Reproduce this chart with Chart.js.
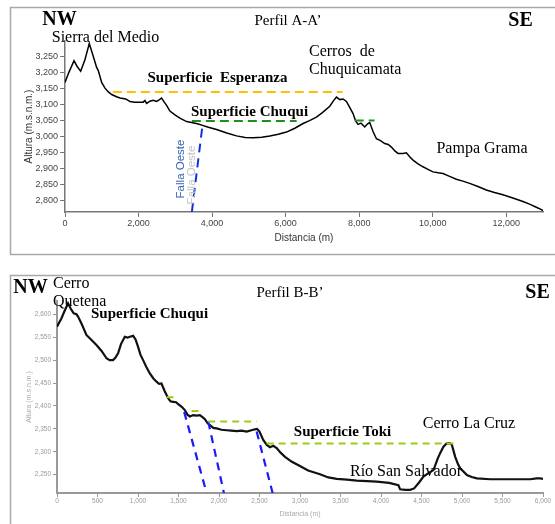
<!DOCTYPE html>
<html><head><meta charset="utf-8">
<script src="https://cdn.jsdelivr.net/npm/chart.js@4.4.1/dist/chart.umd.min.js"></script>
<style>
html,body{margin:0;padding:0;background:#fff;width:555px;height:524px;overflow:hidden}
.wrap{position:absolute;left:0;width:555px}
</style></head><body>
<div class="wrap" style="top:0;height:265px"><canvas id="cA" width="555" height="265"></canvas></div>
<div class="wrap" style="top:265px;height:259px"><canvas id="cB" width="555" height="259"></canvas></div>
<script>
// ---------- Perfil A-A' ----------
const distA = [0,100,245,330,426,540,660,760,860,905,997,1087,1180,1270,1400,1500,1650,1766,1900,2040,2128,2174,2220,2310,2400,2490,2560,2627,2700,2763,2853,3000,3125,3307,3443,3600,3741,3900,4122,4400,4666,4900,5118,5350,5571,5800,6024,6250,6476,6650,6838,7000,7201,7300,7383,7473,7560,7654,7750,7834,7900,7970,8050,8152,8230,8288,8380,8470,8580,8696,8790,8877,8970,9057,9193,9284,9380,9465,9600,9737,9870,10008,10150,10280,10460,10643,10820,11005,11230,11458,11680,11911,12200,12454,12650,12817,12930,13000];
const altA  = [3170,3200,3238,3220,3205,3240,3292,3255,3217,3207,3170,3152,3140,3132,3125,3121,3118,3110,3108,3108,3108,3113,3104,3111,3114,3110,3115,3121,3108,3098,3080,3067,3058,3047,3044,3040,3035,3029,3022,3011,3002,2997,2996,2998,3002,3007,3014,3026,3041,3050,3061,3075,3095,3112,3124,3116,3118,3110,3090,3072,3050,3038,3042,3030,3040,3044,3015,2993,2987,2978,2975,2967,2955,2947,2947,2949,2936,2926,2914,2905,2897,2889,2886,2884,2875,2866,2860,2853,2843,2832,2824,2817,2806,2796,2787,2778,2772,2767];
const xTicksA = [0,2000,4000,6000,8000,10000,12000];
const yTicksA = [2800,2850,2900,2950,3000,3050,3100,3150,3200,3250];
const esperanzaX = [1300,7550],  esperanzaY = [3140,3140];
const chuquiAX   = [3450,6300],  chuquiAY   = [3049,3049];
const chuquiA2X  = [7880,8420],  chuquiA2Y  = [3050,3050];
const fallaOesteX = [3450,3740], fallaOesteY = [2763,3036];

// ---------- Perfil B-B' ----------
const distB = [0,54,100,136,170,206,240,260,302,363,420,487,550,611,650,692,720,754,790,837,870,899,940,970,1001,1030,1063,1100,1146,1190,1229,1260,1290,1330,1372,1400,1434,1470,1496,1540,1578,1610,1640,1681,1723,1764,1800,1826,1860,1888,1930,1970,2030,2094,2150,2218,2280,2341,2400,2444,2470,2500,2546,2590,2629,2670,2712,2760,2815,2900,2999,3100,3247,3350,3454,3580,3701,3830,3948,4100,4215,4236,4300,4360,4409,4470,4524,4590,4648,4700,4730,4771,4810,4850,4875,4916,4950,4978,5061,5120,5184,5349,5596,5843,5920,5967,6000];
const altB  = [2573,2591,2610,2624,2612,2602,2600,2595,2580,2555,2545,2533,2520,2504,2500,2500,2505,2515,2535,2551,2549,2551,2553,2545,2529,2512,2500,2486,2471,2460,2453,2448,2449,2432,2417,2410,2409,2408,2404,2398,2391,2381,2377,2380,2379,2380,2375,2371,2362,2358,2352,2351,2348,2347,2346,2345,2346,2344,2347,2349,2350,2344,2326,2315,2310,2313,2308,2298,2289,2278,2269,2259,2251,2244,2241,2239,2237,2236,2235,2232,2227,2218,2217,2217,2220,2233,2246,2254,2260,2285,2297,2311,2318,2319,2315,2289,2273,2264,2249,2245,2242,2240,2240,2240,2242,2242,2241];
const xTicksB = [0,500,1000,1500,2000,2500,3000,3500,4000,4500,5000,5500,6000];
const yTicksB = [2250,2300,2350,2400,2450,2500,2550,2600];
const surf1X = [1352,1455], surf1Y = [2419,2419];
const surf2X = [1661,1764], surf2Y = [2389,2389];
const surf3X = [1867,2465], surf3Y = [2366,2366];
const tokiX  = [2588,4895], tokiY  = [2318,2318];
const falla1X = [1570,1847], falla1Y = [2387,2210];
const falla2X = [1867,2061], falla2Y = [2366,2210];
const falla3X = [2465,2662], falla3Y = [2344,2210];

const SANS = "'Liberation Sans', Arial, sans-serif";
const SERIF = "'Liberation Serif', 'Times New Roman', serif";
const pts = (xs, ys) => xs.map((x, i) => ({x: x, y: ys[i]}));
const fmt = v => Number(v).toLocaleString('en-US');

function ds(xs, ys, color, width, dash) {
  return {data: pts(xs, ys), borderColor: color, borderWidth: width, borderDash: dash || [],
          pointRadius: 0, tension: 0, fill: false};
}

const textPlugin = {
  id: 'texts',
  afterDraw(chart, args, opts) {
    const ctx = chart.ctx;
    ctx.save();
    if (opts.frame) {
      ctx.strokeStyle = '#a8a8a8'; ctx.lineWidth = 1.5;
      ctx.strokeRect(opts.frame[0], opts.frame[1], opts.frame[2], opts.frame[3]);
    }
    (opts.labels || []).forEach(l => {
      ctx.save();
      ctx.font = l.font; ctx.fillStyle = l.color || '#000';
      ctx.textAlign = l.align || 'center'; ctx.textBaseline = 'middle';
      ctx.translate(l.x, l.y);
      if (l.rot) ctx.rotate(l.rot * Math.PI / 180);
      ctx.fillText(l.t, 0, 0);
      ctx.restore();
    });
    ctx.restore();
  }
};

function makeOpts(cfg) {
  return {
    responsive: false, animation: false,
    layout: {padding: cfg.pad},
    plugins: {legend: {display: false}, tooltip: {enabled: false},
              texts: {labels: cfg.labels, frame: cfg.frame}},
    scales: {
      x: {type: 'linear', min: cfg.xmin, max: cfg.xmax,
          afterBuildTicks: s => { s.ticks = cfg.xt.map(v => ({value: v})); },
          afterFit: s => { s.height = cfg.xh; },
          grid: {drawOnChartArea: false, drawTicks: true, tickLength: cfg.tl, color: cfg.axc, lineWidth: 1},
          border: {color: cfg.axc, width: cfg.axw},
          ticks: {callback: fmt, maxRotation: 0, autoSkip: false, padding: cfg.xpad,
                  font: {family: SANS, size: cfg.tick}, color: cfg.tickc},
          title: {display: true, text: 'Distancia (m)', color: cfg.titc,
                  font: {family: SANS, size: cfg.xtit}, padding: {top: 4, bottom: 4}}},
      y: {type: 'linear', min: cfg.ymin, max: cfg.ymax,
          afterBuildTicks: s => { s.ticks = cfg.yt.map(v => ({value: v})); },
          afterFit: s => { s.width = cfg.yw; },
          grid: {drawOnChartArea: false, drawTicks: true, tickLength: cfg.tl, color: cfg.axc, lineWidth: 1},
          border: {color: cfg.axc, width: cfg.axw},
          ticks: {callback: fmt, padding: 2, font: {family: SANS, size: cfg.tick}, color: cfg.tickc},
          title: {display: true, text: 'Altura (m.s.n.m.)', color: cfg.titc,
                  font: {family: SANS, size: cfg.ytit}, padding: {top: 4, bottom: 4}}}
    }
  };
}

new Chart(document.getElementById('cA'), {
  type: 'line',
  data: {datasets: [
    ds(esperanzaX, esperanzaY, '#ffc000', 2, [9, 5]),
    ds(chuquiAX, chuquiAY, '#1f8f1f', 2, [9, 5]),
    ds(chuquiA2X, chuquiA2Y, '#1f8f1f', 2, [9, 5]),
    ds(fallaOesteX, fallaOesteY, '#1030e0', 2, [9, 6]),
    ds(distA, altA, '#000000', 1.5)
  ]},
  options: makeOpts({
    pad: {left: 19, right: 12, top: 41, bottom: 17},
    xmin: 0, xmax: 13000, ymin: 2763, ymax: 3300, xt: xTicksA, yt: yTicksA,
    xh: 36, yw: 46, tl: 5, xpad: 1, axc: '#777', axw: 1.5,
    tick: 9, tickc: '#444', titc: '#333', xtit: 10, ytit: 10,
    frame: [10.5, 7.5, 600, 247],
    labels: [
      {t: 'NW', x: 59.5, y: 20, font: 'bold 20px ' + SERIF},
      {t: 'Perfil A-A\u2019', x: 288, y: 21, font: '15px ' + SERIF},
      {t: 'SE', x: 520.5, y: 21, font: 'bold 20px ' + SERIF},
      {t: 'Sierra del Medio', x: 105.5, y: 38, font: '16px ' + SERIF},
      {t: 'Cerros  de', x: 309, y: 52, align: 'left', font: '16px ' + SERIF},
      {t: 'Chuquicamata', x: 309, y: 70, align: 'left', font: '16px ' + SERIF},
      {t: 'Superficie  Esperanza', x: 217.5, y: 78, font: 'bold 15px ' + SERIF},
      {t: 'Superficie Chuqui', x: 249.5, y: 112, font: 'bold 15px ' + SERIF},
      {t: 'Pampa Grama', x: 482, y: 149, font: '16px ' + SERIF},
      {t: 'Falla Oeste', x: 192, y: 175, rot: -90, font: '11.5px ' + SANS, color: '#c4c4c4'},
      {t: 'Falla Oeste', x: 181, y: 169, rot: -90, font: '11.5px ' + SANS, color: '#3a64b4'}
    ]
  }),
  plugins: [textPlugin]
});

new Chart(document.getElementById('cB'), {
  type: 'line',
  data: {datasets: [
    ds(surf1X, surf1Y, '#9acd1a', 2, [7, 5]),
    ds(surf2X, surf2Y, '#9acd1a', 2, [7, 5]),
    ds(surf3X, surf3Y, '#9acd1a', 2, [7, 5]),
    ds(tokiX, tokiY, '#9acd1a', 2, [7, 5]),
    ds(falla1X, falla1Y, '#1a1aff', 2.2, [8, 6]),
    ds(falla2X, falla2Y, '#1a1aff', 2.2, [8, 6]),
    ds(falla3X, falla3Y, '#1a1aff', 2.2, [8, 6]),
    ds(distB, altB, '#111111', 2.2)
  ]},
  options: makeOpts({
    pad: {left: 21, right: 12, top: 36, bottom: 2},
    xmin: 0, xmax: 6000, ymin: 2210, ymax: 2629, xt: xTicksB, yt: yTicksB,
    xh: 29, yw: 36, tl: 4, xpad: 0, axc: '#999', axw: 2,
    tick: 6.5, tickc: '#999', titc: '#aaa', xtit: 7, ytit: 7,
    frame: [10.5, 10.5, 600, 400],
    labels: [
      {t: 'NW', x: 30.5, y: 23, font: 'bold 20px ' + SERIF},
      {t: 'Cerro', x: 53, y: 19, align: 'left', font: '16px ' + SERIF},
      {t: 'Quetena', x: 53, y: 37, align: 'left', font: '16px ' + SERIF},
      {t: 'Perfil B-B\u2019', x: 290, y: 28, font: '15px ' + SERIF},
      {t: 'SE', x: 537.5, y: 28, font: 'bold 20px ' + SERIF},
      {t: 'Superficie Chuqui', x: 149.5, y: 49, font: 'bold 15px ' + SERIF},
      {t: 'Superficie Toki', x: 342.5, y: 167, font: 'bold 15px ' + SERIF},
      {t: 'Cerro La Cruz', x: 469, y: 159, font: '16px ' + SERIF},
      {t: 'R\u00edo San Salvador', x: 406, y: 207, font: '16px ' + SERIF}
    ]
  }),
  plugins: [textPlugin]
});
</script>
</body></html>
